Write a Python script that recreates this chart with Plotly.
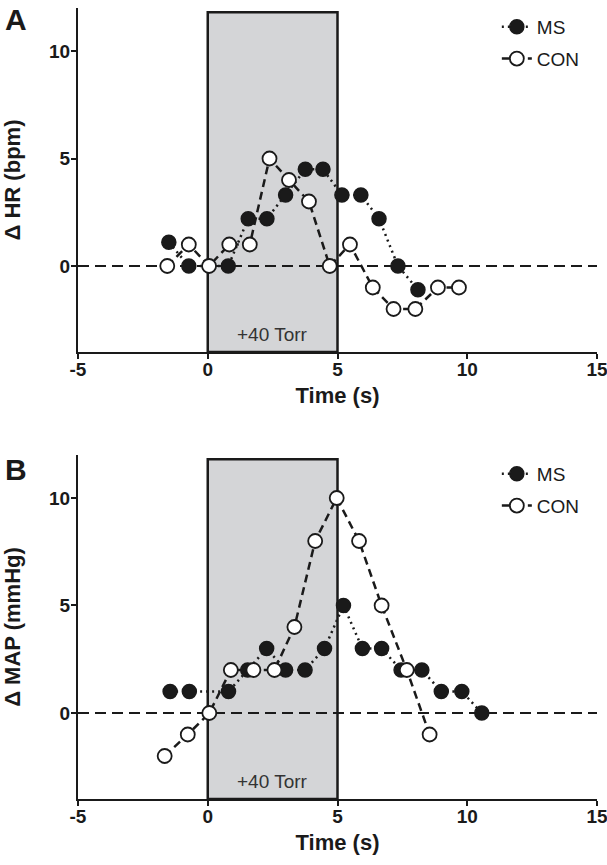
import plotly.graph_objects as go

# Panel A: heart rate response
hr_ms_t = [-1.5, -0.73, 0.79, 1.56, 2.28, 3.0, 3.76, 4.44, 5.17, 5.9, 6.6, 7.33, 8.1]
hr_ms_v = [1.1, 0.0, 0.0, 2.2, 2.2, 3.3, 4.5, 4.5, 3.3, 3.3, 2.2, 0.0, -1.1]
hr_con_t = [-1.56, -0.73, 0.05, 0.83, 1.62, 2.38, 3.13, 3.9, 4.7, 5.48, 6.36, 7.16, 8.0, 8.87, 9.68]
hr_con_v = [0.0, 1.0, 0.0, 1.0, 1.0, 5.0, 4.0, 3.0, 0.0, 1.0, -1.0, -2.0, -2.0, -1.0, -1.0]

# Panel B: mean arterial pressure response
map_ms_t = [-1.45, -0.71, 0.8, 1.54, 2.27, 3.0, 3.75, 4.5, 5.23, 5.96, 6.7, 7.45, 8.25, 9.0, 9.79, 10.56]
map_ms_v = [1.0, 1.0, 1.0, 2.0, 3.0, 2.0, 2.0, 3.0, 5.0, 3.0, 3.0, 2.0, 2.0, 1.0, 1.0, 0.0]
map_con_t = [-1.66, -0.77, 0.06, 0.89, 1.76, 2.57, 3.34, 4.14, 4.97, 5.83, 6.7, 7.67, 8.55]
map_con_v = [-2.0, -1.0, 0.0, 2.0, 2.0, 2.0, 4.0, 8.0, 10.0, 8.0, 5.0, 2.0, -1.0]

x_ticks = [-5, 0, 5, 10, 15]
x_tick_labels = ["-5", "0", "5", "10", "15"]
y_ticks = [0, 5, 10]
stim_start, stim_end = 0, 5
stim_label = "+40 Torr"

FONT = "Liberation Sans, Arial, sans-serif"
INK = "#1a1a1a"

fig = go.Figure()

panels = [
    ("x", "y", "legend", hr_ms_t, hr_ms_v, hr_con_t, hr_con_v),
    ("x2", "y2", "legend2", map_ms_t, map_ms_v, map_con_t, map_con_v),
]

for xa, ya, lg, ms_t, ms_v, con_t, con_v in panels:
    # stimulus box
    fig.add_shape(type="rect", xref=xa, yref=ya, x0=stim_start, x1=stim_end, y0=-4, y1=11.8,
                  fillcolor="#d4d5d7", line=dict(color=INK, width=2.5), layer="below")
    # zero reference
    fig.add_shape(type="line", xref=xa, yref=ya, x0=-5, x1=15, y0=0, y1=0,
                  line=dict(color=INK, width=2, dash="11px,6px"), layer="below")
    fig.add_annotation(x=(stim_start + stim_end) / 2, y=-3.2, xref=xa, yref=ya, text=stim_label,
                       showarrow=False, font=dict(family=FONT, size=19, color="#333333"))

    fig.add_trace(go.Scatter(
        x=ms_t, y=ms_v, xaxis=xa, yaxis=ya, name="MS", legend=lg, legendgroup="ms" + xa,
        mode="lines+markers",
        line=dict(color=INK, width=2.5, dash="2px,4px"),
        marker=dict(size=14, color=INK, line=dict(color=INK, width=1.5)),
    ))
    fig.add_trace(go.Scatter(
        x=con_t, y=con_v, xaxis=xa, yaxis=ya, name="CON", legend=lg, legendgroup="con" + xa,
        mode="lines+markers",
        line=dict(color=INK, width=2.5, dash="8px,5px"),
        marker=dict(size=14, color="white", line=dict(color=INK, width=1.8)),
    ))

axis_common = dict(
    showgrid=False, zeroline=False, showline=True, linecolor=INK, linewidth=2,
    ticks="outside", ticklen=5, tickwidth=2, tickcolor=INK, automargin=False,
    tickfont=dict(family=FONT, size=19, color=INK, weight="bold"),
)

xa_cfg = dict(axis_common, range=[-5, 15], tickvals=x_ticks, ticktext=x_tick_labels,
              ticklabelstandoff=-6, ticklabeloverflow="allow",
              title=dict(text="Time (s)", standoff=9,
                         font=dict(family=FONT, size=22, color=INK, weight="bold")))

def y_cfg(title, domain, anchor):
    return dict(axis_common, range=[-4, 12], tickvals=y_ticks, domain=domain, anchor=anchor,
                ticklabelstandoff=-3,
                title=dict(text=title, standoff=25,
                           font=dict(family=FONT, size=22, color=INK, weight="bold")))

legend_common = dict(
    font=dict(family=FONT, size=19, color=INK),
    bgcolor="rgba(0,0,0,0)", tracegroupgap=4, itemwidth=30,
    xanchor="left", yanchor="top", x=0.807,
)

fig.update_layout(
    width=607, height=865,
    paper_bgcolor="white", plot_bgcolor="white",
    margin=dict(l=78, r=10, t=8, b=66),
    xaxis=dict(xa_cfg, anchor="y"),
    yaxis=y_cfg("Δ HR (bpm)", [0.5651, 1.0], "x"),
    xaxis2=dict(xa_cfg, anchor="y2"),
    yaxis2=y_cfg("Δ MAP (mmHg)", [0.0, 0.4349], "x2"),
    legend=dict(legend_common, y=1.0),
    legend2=dict(legend_common, y=0.4349),
    showlegend=True,
)

for letter, yp in [("A", 1.0089), ("B", 0.44)]:
    fig.add_annotation(text=letter, xref="paper", yref="paper", x=-0.1445, y=yp,
                       xanchor="left", yanchor="top", showarrow=False,
                       font=dict(family=FONT, size=30, color=INK, weight="bold"))

# drop the browser's default 8px body margin so the figure fills the window
fig.write_html("out.html", config={"displayModeBar": False},
               post_script="document.body.style.margin='0';document.body.style.overflow='hidden';")
